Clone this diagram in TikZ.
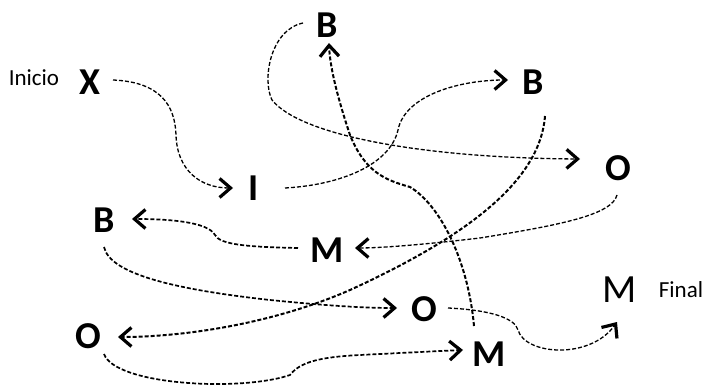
\documentclass[tikz,border=0pt]{standalone}
\usepackage{fontspec}
\setmainfont{Carlito}
\usetikzlibrary{arrows.meta}
\tikzset{
  letter/.style={inner sep=0pt, font=\fontsize{38}{38}\selectfont\bfseries},
  plainletter/.style={inner sep=0pt, font=\fontsize{40}{40}\selectfont},
  label text/.style={inner sep=0pt, font=\fontsize{23}{23}\selectfont},
  flow/.style={dash pattern=on 4pt off 2pt, line width=1.3pt,
    -{Straight Barb[length=11pt,width=19pt,line width=3.2pt]}},
  flowthick/.style={flow, line width=2pt},
  flowmid/.style={flow, line width=1.7pt}
}
\begin{document}
\begin{tikzpicture}[x=1pt,y=-1pt]
\useasboundingbox (0,0) rectangle (707,390);
% nodes
\node[label text] (inicio) at (34,78) {Inicio};
\node[letter] (X) at (90,82) {X};
\node[letter] (Btop) at (327,25) {B};
\node[letter] (Bright) at (533,82) {B};
\node[letter] (I) at (254,188) {I};
\node[letter] (Oright) at (618,168) {O};
\node[letter] (Bleft) at (104,220) {B};
\node[letter] (Mmid) at (327,250) {M};
\node[letter] (Omid) at (424,309) {O};
\node[plainletter] (Mfin) at (620,290) {M};
\node[label text] (final) at (681,290) {Final};
\node[letter] (Obl) at (88,336) {O};
\node[letter] (Mbot) at (489,354) {M};
% connectors
\draw[flow] ([shift={(23,-2)}]X.center) .. controls (160,82) and (175,105) .. (176,135)
  .. controls (177,170) and (200,188) .. ([shift={(-21,0)}]I.center);
\draw[flow] ([shift={(31,0)}]I.center) .. controls (340,185) and (390,165) .. (398,130)
  .. controls (405,95) and (460,80) .. ([shift={(-25,-2)}]Bright.center);
\draw[flow] ([shift={(-24,-2)}]Btop.center) .. controls (270,30) and (262,80) .. (272,100)
  .. controls (300,135) and (420,158) .. ([shift={(-38,-9)}]Oright.center);
\draw[flowthick] ([shift={(-15,-28)}]Mbot.center) .. controls (468,260) and (440,205) .. (410,187)
  .. controls (385,180) and (365,172) .. (350,135)
  .. controls (340,105) and (330,70) .. ([shift={(2,18)}]Btop.center);
\draw[flowthick] ([shift={(12,34)}]Bright.center) .. controls (540,180) and (470,235) .. (350,290)
  .. controls (270,325) and (180,337) .. ([shift={(30,1)}]Obl.center);
\draw[flow] ([shift={(-1,27)}]Oright.center) .. controls (612,215) and (560,225) .. (480,238)
  .. controls (420,245) and (380,248) .. ([shift={(28,-2)}]Mmid.center);
\draw[flowmid] ([shift={(-29,-2)}]Mmid.center) .. controls (250,247) and (220,245) .. (215,235)
  .. controls (208,222) and (170,219) .. ([shift={(28,-1)}]Bleft.center);
\draw[flowmid] ([shift={(0,27)}]Bleft.center) .. controls (110,275) and (180,290) .. (270,300)
  .. controls (320,305) and (360,308) .. ([shift={(-27,-1)}]Omid.center);
\draw[flowmid] ([shift={(16,18)}]Obl.center) .. controls (115,385) and (240,392) .. (290,375)
  .. controls (300,362) and (320,357) .. (360,355)
  .. controls (400,353) and (440,351) .. ([shift={(-26,-4)}]Mbot.center);
\draw[flow] ([shift={(24,-1)}]Omid.center) .. controls (490,310) and (515,318) .. (518,330)
  .. controls (525,355) and (590,360) .. ([shift={(-3,32)}]Mfin.center);
\end{tikzpicture}
\end{document}
